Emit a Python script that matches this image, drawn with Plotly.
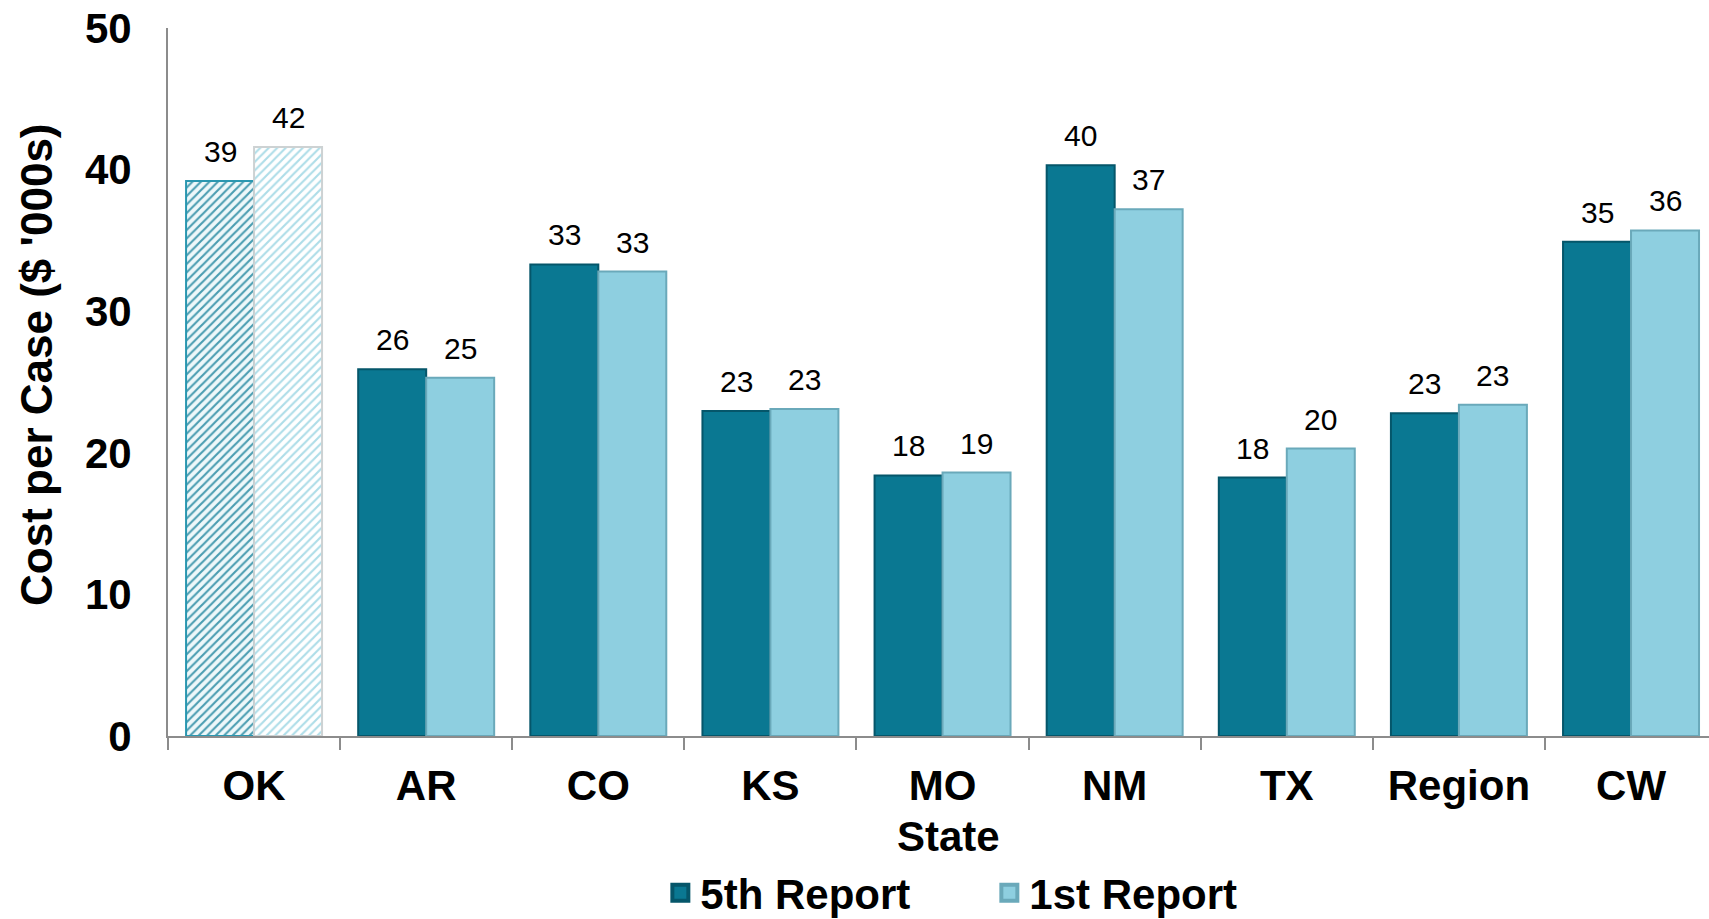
import plotly.graph_objects as go

# Cost per case by state, in thousands of dollars
states = ["OK", "AR", "CO", "KS", "MO", "NM", "TX", "Region", "CW"]
fifth_report = [39.2, 25.9, 33.3, 22.95, 18.4, 40.3, 18.25, 22.8, 34.9]
first_report = [41.6, 25.3, 32.8, 23.1, 18.6, 37.2, 20.3, 23.4, 35.7]

# The home state is shown hatched, the rest solid
hatched_states = ["OK"]

FONT = "Liberation Sans, Arial, sans-serif"
BOLD = lambda size: dict(family=FONT, size=size, weight="bold", color="black")

series_specs = [
    dict(name="5th Report", values=fifth_report, group="fifth",
         fill="#0a7892", edge="#05566a",
         hatch_fg="#4a9db1", hatch_bg="#eef8fa", hatch_edge="#2a97b0"),
    dict(name="1st Report", values=first_report, group="first",
         fill="#8ecfe0", edge="#6aa9ba",
         hatch_fg="#addde8", hatch_bg="#ffffff", hatch_edge="#cdd2d3"),
]

fig = go.Figure()
for spec in series_specs:
    solid_x = [s for s in states if s not in hatched_states]
    solid_y = [v for s, v in zip(states, spec["values"]) if s not in hatched_states]
    hatch_x = [s for s in states if s in hatched_states]
    hatch_y = [v for s, v in zip(states, spec["values"]) if s in hatched_states]

    fig.add_trace(go.Bar(
        name=spec["name"], x=hatch_x, y=hatch_y,
        offsetgroup=spec["group"], showlegend=False,
        marker=dict(
            color=spec["hatch_bg"],
            line=dict(color=spec["hatch_edge"], width=2),
            pattern=dict(shape="/", fgcolor=spec["hatch_fg"], bgcolor=spec["hatch_bg"],
                         fillmode="replace", size=6, solidity=0.35, fgopacity=1),
        ),
    ))
    fig.add_trace(go.Bar(
        name=spec["name"], x=solid_x, y=solid_y,
        offsetgroup=spec["group"], showlegend=False,
        marker=dict(color=spec["fill"], line=dict(color=spec["edge"], width=2)),
    ))
    # Legend key: a larger square swatch than the default bar key
    fig.add_trace(go.Scatter(
        name=spec["name"], x=[None], y=[None], mode="markers",
        marker=dict(symbol="square", size=16, color=spec["fill"],
                    line=dict(color=spec["edge"], width=4)),
    ))

# Value labels above each bar
half_bar = 34
for spec, shift in zip(series_specs, (-half_bar, half_bar)):
    for s, v in zip(states, spec["values"]):
        fig.add_annotation(
            x=s, y=v, text=f"{v:.0f}", showarrow=False,
            xshift=shift, yshift=11, yanchor="bottom",
            font=dict(family=FONT, size=30, color="black"),
        )

# Axis titles
fig.add_annotation(
    text="State", xref="paper", yref="paper", x=0.5068, y=-0.142,
    xanchor="center", yanchor="middle", showarrow=False, font=BOLD(42),
)
fig.add_annotation(
    text="Cost per Case ($ '000s)", xref="paper", yref="paper", x=-0.0857, y=0.524,
    xanchor="center", yanchor="middle", textangle=-90, showarrow=False, font=BOLD(44),
)

fig.update_layout(
    width=1709, height=919,
    margin=dict(l=168, r=0, t=28, b=183, autoexpand=False),
    paper_bgcolor="white", plot_bgcolor="white",
    barmode="group", bargap=0.21, bargroupgap=0,
    font=dict(family=FONT, color="black"),
    showlegend=True,
    legend=dict(
        orientation="h", x=0.533, xanchor="center", y=-0.2218, yanchor="middle",
        font=BOLD(42), entrywidth=284, itemwidth=30,
    ),
)
fig.update_xaxes(
    categoryorder="array", categoryarray=states,
    range=[-0.5, 8.453],
    showline=True, linecolor="#8c8c8c", linewidth=2,
    ticks="outside", tickson="boundaries", ticklen=12, tickcolor="#8c8c8c", tickwidth=2,
    ticklabelstandoff=12, tickfont=BOLD(42),
    showgrid=False, automargin=False,
)
fig.update_yaxes(
    range=[0, 50], dtick=10,
    showline=True, linecolor="#8c8c8c", linewidth=2,
    ticks="", ticklabelstandoff=26, tickfont=BOLD(42),
    showgrid=False, zeroline=False, automargin=False,
)

fig.write_html("out.html")
